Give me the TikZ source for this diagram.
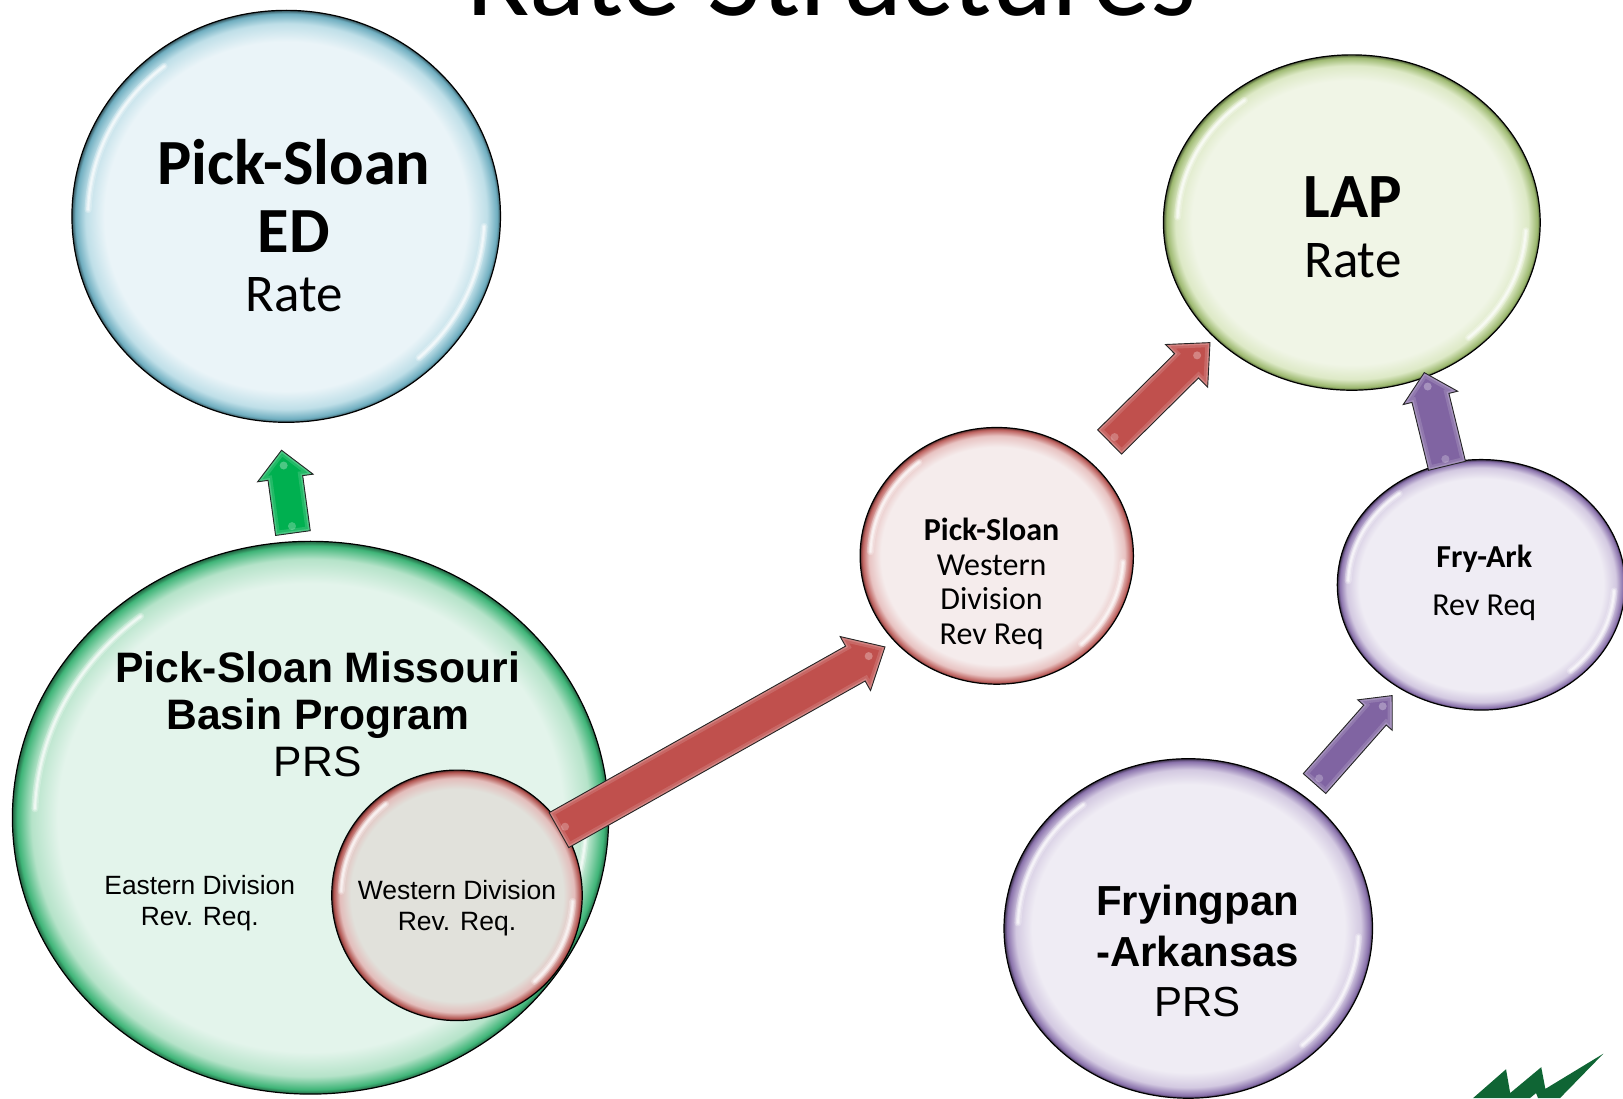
\documentclass[tikz,border=0pt]{standalone}
\usepackage{fontspec}
\setmainfont{Carlito}
\newfontfamily\arialf{Liberation Sans}
\usetikzlibrary{calc,shapes.geometric}
\newcommand{\defbubble}[5]{\pgfdeclareradialshading{#1}{\pgfpoint{0bp}{0bp}}{color(0bp)=(#2); color(21.2bp)=(#2); color(23.4bp)=(#3); color(24.6bp)=(#4); color(25bp)=(#5); color(50bp)=(#5)}}
\definecolor{bfill}{HTML}{EAF4F8}\definecolor{bmid}{HTML}{BFDFE8}\definecolor{bedge}{HTML}{6FAEC0}
\definecolor{gfill}{HTML}{E3F4EB}\definecolor{gmid}{HTML}{B5E3C9}\definecolor{gedge}{HTML}{3FB578}
\definecolor{rfill}{HTML}{E1E1DB}\definecolor{rmid}{HTML}{E3BDBB}\definecolor{redge}{HTML}{B25450}
\definecolor{pfill}{HTML}{F5ECEC}\definecolor{pmid}{HTML}{E8C3C2}\definecolor{pedge}{HTML}{BC5F5C}
\definecolor{lfill}{HTML}{F0F5E6}\definecolor{lmid}{HTML}{DDE9C6}\definecolor{ledge}{HTML}{9DB970}
\definecolor{vfill}{HTML}{EFECF4}\definecolor{vmid}{HTML}{D3C9E1}\definecolor{vedge}{HTML}{8A72AC}
\definecolor{arred}{HTML}{C0504D}\definecolor{argreen}{HTML}{00B050}\definecolor{arpurple}{HTML}{8064A2}
\definecolor{logog}{HTML}{0F6534}
\defbubble{shblue}{bfill}{bmid}{bedge}{black!50!bedge}
\defbubble{shgreen}{gfill}{gmid}{gedge}{black!45!gedge}
\defbubble{shred}{rfill}{rmid}{redge}{black!50!redge}
\defbubble{shpink}{pfill}{pmid}{pedge}{black!50!pedge}
\defbubble{shlime}{lfill}{lmid}{ledge}{black!50!ledge}
\defbubble{shviolet}{vfill}{vmid}{vedge}{black!55!vedge}
\tikzset{
  bubblenode/.style={ellipse,draw=black,line width=1.2pt,inner sep=0pt,outer sep=0pt},
  glintw/.style={draw=white,opacity=.25,line width=7pt,line cap=round},
  glintm/.style={draw=white,opacity=.4,line width=4pt,line cap=round},
  glintn/.style={draw=white,opacity=.5,line width=1.8pt,line cap=round},
  label/.style={inner sep=0pt,outer sep=0pt,align=center,text=black}
}
\newcommand{\bubble}[6]{%
  \node[bubblenode,shading=#6,minimum width={2*#4*1.0351pt},minimum height={2*#5*1.0351pt}] (#1) at (#2,-#3) {};
  \begin{scope}[shift={(#1.center)}]
    \foreach \gs in {glintw,glintm,glintn}{
      \draw[\gs] (128:{.925*#4} and {.925*#5}) arc[start angle=128,end angle=178,x radius={.925*#4},y radius={.925*#5}];
      \draw[\gs] (-48:{.925*#4} and {.925*#5}) arc[start angle=-48,end angle=-3,x radius={.925*#4},y radius={.925*#5}];
    }
  \end{scope}}
% tail coordinate, tip coordinate, half shaft, half head, head length, colour
\newcommand{\blockarrow}[6]{%
  \coordinate (hb) at ($(#2)!#5!(#1)$);
  \def\arrowshape{($(#1)!#3!90:(#2)$) -- ($(hb)!#3!90:(#2)$) -- ($(hb)!#4!90:(#2)$) -- (#2) -- ($(hb)!#4!-90:(#2)$) -- ($(hb)!#3!-90:(#2)$) -- ($(#1)!#3!-90:(#2)$) -- cycle}
  \fill[#6] \arrowshape;
  \begin{scope}
    \clip \arrowshape;
    \draw[#6!55!white,opacity=.3,line width=9pt] \arrowshape;
    \draw[#6!55!white,opacity=.5,line width=4pt] \arrowshape;
  \end{scope}
  \fill[white,opacity=.3] ($(hb)!.45!(#2)$) circle (4pt);
  \fill[white,opacity=.25] ($(#1)!7pt!(#2)$) circle (4pt);
  \draw[black!85,line width=.9pt,line join=miter] \arrowshape;}
\begin{document}
\begin{tikzpicture}[x=1.0351pt,y=1.0351pt]
\useasboundingbox (0,-1061) rectangle (1568,0);
\clip (0,-1061) rectangle (1568,0);
\fill[white] (0,-1061) rectangle (1568,0);
% title
\node[label,anchor=base,font=\fontsize{117}{117}\selectfont] (title) at (803,-15) {Rate Structures};
% logo
\fill[logog] (1423,-1061) -- (1455,-1033) -- (1459,-1056) -- (1489,-1031) -- (1493,-1052) -- (1549,-1018) -- (1507,-1061) -- (1486,-1061) -- (1484,-1056) -- (1478,-1061) -- cycle;
% bubbles
\bubble{ped}{276.5}{209}{207}{199}{shblue}
\bubble{psm}{300}{790}{288}{267}{shgreen}
\bubble{wdr}{441.5}{865}{121}{121}{shred}
\bubble{pwd}{963}{537}{132}{124}{shpink}
\bubble{lap}{1306}{215}{182}{162}{shlime}
\bubble{fry}{1431}{565}{139}{121}{shviolet}
\bubble{fap}{1148}{897}{178}{164}{shviolet}
% arrow ends
\coordinate (t1) at (283,-515); \coordinate (h1) at (272,-435);
\coordinate (t2) at (540,-802); \coordinate (h2) at (855,-625);
\coordinate (t3) at (1072,-427); \coordinate (h3) at (1169,-331);
\coordinate (t4) at (1398,-450); \coordinate (h4) at (1376,-360);
\coordinate (t5) at (1270,-757); \coordinate (h5) at (1345,-672);
\blockarrow{t1}{h1}{17.5pt}{28pt}{28pt}{argreen}
\blockarrow{t2}{h2}{20pt}{31pt}{34pt}{arred}
\blockarrow{t3}{h3}{17pt}{30pt}{33pt}{arred}
\blockarrow{t4}{h4}{19pt}{28pt}{26pt}{arpurple}
\blockarrow{t5}{h5}{15pt}{23pt}{26pt}{arpurple}
% labels
\node[label,font=\fontsize{64.4}{68}\selectfont] (l1) at (284,-189) {\textbf{Pick-Sloan}\\\textbf{ED}};
\node[label,font=\fontsize{53}{53}\selectfont] (l1b) at (284,-285) {Rate};
\node[label,font=\fontsize{63}{63}\selectfont\bfseries] (l2) at (1307,-190) {LAP};
\node[label,font=\fontsize{53}{53}\selectfont] (l2b) at (1307,-252) {Rate};
\node[label,font=\fontsize{32}{34.5}\selectfont] (l3) at (958,-564) {\textbf{Pick-Sloan}\\Western\\Division\\Rev Req};
\node[label,font=\fontsize{32}{32}\selectfont\bfseries] (l4) at (1434,-540) {Fry-Ark};
\node[label,font=\fontsize{32}{32}\selectfont] (l4b) at (1434,-587) {Rev Req};
\node[label,font=\arialf\fontsize{42.6}{47}\selectfont] (l5) at (307,-690) {\textbf{Pick-Sloan Missouri}\\\textbf{Basin Program}\\PRS};
\node[label,font=\arialf\fontsize{26.4}{31}\selectfont] (l6) at (193,-873) {Eastern Division\\Rev. Req.};
\node[label,font=\arialf\fontsize{26.5}{31}\selectfont] (l7) at (441.5,-877) {Western Division\\Rev. Req.};
\node[label,font=\arialf\fontsize{42}{50.5}\selectfont] (l8) at (1157,-919) {\textbf{Fryingpan}\\\textbf{-Arkansas}\\PRS};
\end{tikzpicture}
\end{document}
